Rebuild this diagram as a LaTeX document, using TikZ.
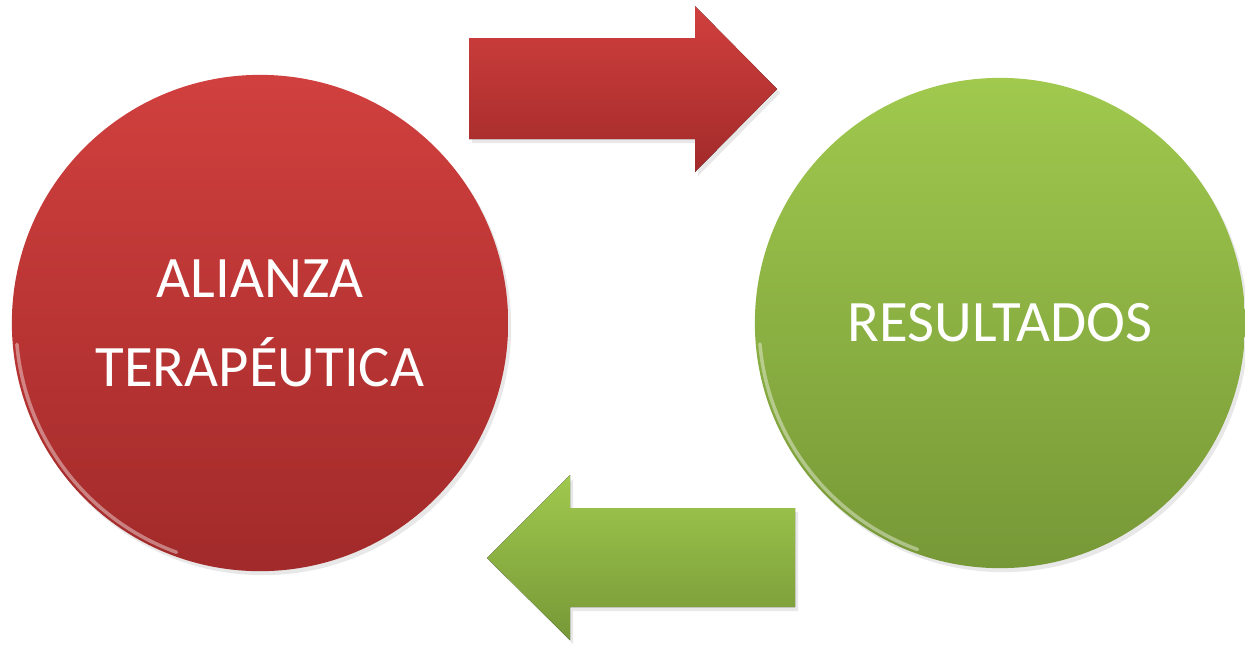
\documentclass[tikz,border=0pt]{standalone}
\usepackage{fontspec}
\setmainfont{Carlito}
\usetikzlibrary{shadows}
\definecolor{rojoA}{RGB}{208,64,62}
\definecolor{rojoB}{RGB}{162,42,42}
\definecolor{verdeA}{RGB}{160,201,78}
\definecolor{verdeB}{RGB}{119,152,55}
\tikzset{
  bola/.style={circle,inner sep=0pt,align=center,text=white,
    font=\fontsize{16.7}{25.3}\selectfont,
    drop shadow={opacity=0.18,shadow xshift=0.03cm,shadow yshift=-0.04cm}},
  flecha/.style={drop shadow={opacity=0.18,shadow xshift=0.03cm,shadow yshift=-0.04cm}},
  brillo/.style={white,opacity=0.4,line width=1pt,line cap=round}
}
\begin{document}
\begin{tikzpicture}[x=0.01cm,y=0.01cm]
    \useasboundingbox (0,0) rectangle (1245,647);
    \node[bola,minimum size=4.96cm,top color=rojoA,bottom color=rojoB] (alianza) at (260,324)
      {ALIANZA\\TERAPÉUTICA}; %circulo rojo
    \node[bola,minimum size=4.90cm,top color=verdeA,bottom color=verdeB] (resultados) at (1000,324)
      {RESULTADOS}; %circulo verde
    \draw[brillo] (alianza.center) ++(185:244) arc (185:250:244);
    \draw[brillo] (resultados.center) ++(185:241) arc (185:250:241);
    \fill[flecha,top color=rojoA,bottom color=rojoB] (469,609) -- (695,609) -- (695,641) -- (777,558)
      -- (695,475) -- (695,508) -- (469,508) -- cycle; %flecha roja
    \fill[flecha,top color=verdeA,bottom color=verdeB] (795,139) -- (570,139) -- (570,172) -- (487,89)
      -- (570,7) -- (570,40) -- (795,40) -- cycle; %flecha verde
  \end{tikzpicture}
\end{document}
